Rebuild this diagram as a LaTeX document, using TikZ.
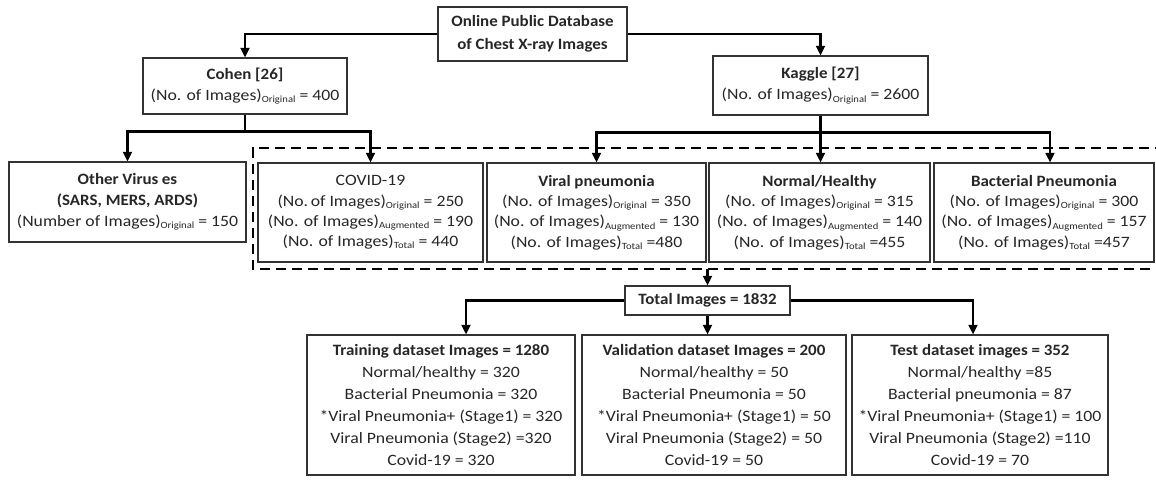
\documentclass[tikz,border=0pt]{standalone}
\usepackage{fontspec}
\setmainfont{Carlito}[FakeStretch=1.12, BoldFeatures={FakeStretch=1.07}]
\usetikzlibrary{arrows.meta}

\tikzset{
  box/.style={draw=black!80, line width=0.6pt, align=center, inner sep=0pt,
    text=black!85, font=\fontsize{9}{12}\selectfont},
  conn/.style={line width=1.3pt, -{Triangle[length=5.5pt,width=5pt]}},
  link/.style={line width=1.3pt},
  group/.style={line width=1.3pt, dash pattern=on 0.2cm off 0.12cm}
}
\newcommand{\sub}[1]{\raisebox{-0.3ex}{\fontsize{5.4}{5}\selectfont #1}}

\begin{document}
\begin{tikzpicture}
\useasboundingbox (0,0) rectangle (23.12,-9.68);
%
% Database
\node[box, minimum width=3.78cm, minimum height=1.08cm, font=\fontsize{9}{13}\selectfont] (db) at (10.65,-0.68)
  {\textbf{Online Public Database}\\\textbf{of Chest X-ray Images}};
% Sources
\node[box, minimum width=4.08cm, minimum height=1.12cm] (cohen) at (4.9,-1.72)
  {\textbf{Cohen [26]}\\(No. of Images)\sub{Original} = 400};
\node[box, minimum width=4.3cm, minimum height=1.18cm] (kaggle) at (16.41,-1.71)
  {\textbf{Kaggle [27]}\\(No. of Images)\sub{Original} = 2600};

%
% Classes
\node[box, minimum width=4.74cm, minimum height=1.6cm] (other) at (2.55,-4.04)
  {\textbf{Other Virus\hspace{2pt}es}\\\textbf{(SARS, MERS, ARDS)}\\(Number of Images)\sub{Original} = 150};
\node[box, minimum width=4.5cm, minimum height=1.98cm, font=\fontsize{9}{11.5}\selectfont] (covid) at (7.41,-4.25)
  {COVID-19\\(No.\,of Images)\sub{Original} = 250\\(No. of Images)\sub{Augmented} = 190\\(No. of Images)\sub{Total} = 440};
\node[box, minimum width=4.38cm, minimum height=1.98cm, font=\fontsize{9}{11.5}\selectfont] (viral) at (11.93,-4.25)
  {\textbf{Viral pneumonia}\\(No. of Images)\sub{Original} = 350\\(No. of Images)\sub{Augmented} = 130\\(No. of Images)\sub{Total} =480};
\node[box, minimum width=4.42cm, minimum height=1.98cm, font=\fontsize{9}{11.5}\selectfont] (normal) at (16.39,-4.25)
  {\textbf{Normal/Healthy}\\(No. of Images)\sub{Original} = 315\\(No. of Images)\sub{Augmented} = 140\\(No. of Images)\sub{Total} =455};
\node[box, minimum width=4.4cm, minimum height=1.98cm, font=\fontsize{9}{11.5}\selectfont] (bact) at (20.88,-4.25)
  {\textbf{Bacterial Pneumonia}\\(No. of Images)\sub{Original} = 300\\(No. of Images)\sub{Augmented} = 157\\(No. of Images)\sub{Total} =457};
% used classes
\draw[group] (23.3,-2.96) -- (5.06,-2.96) -- (5.06,-5.38) -- (23.3,-5.38);
\coordinate (grp) at (14.15,-5.38);

%
% Total
\node[box, minimum width=3.3cm, minimum height=0.58cm] (total) at (14.15,-6.01)
  {\textbf{Total Images = 1832}};
% Splits
\node[box, minimum width=5.36cm, minimum height=2.8cm, font=\fontsize{9}{12.5}\selectfont] (train) at (8.82,-8.1)
  {\textbf{Training dataset Images = 1280}\\Normal/healthy = 320\\Bacterial Pneumonia = 320\\*Viral Pneumonia+ (Stage1) = 320\\Viral Pneumonia (Stage2) =320\\Covid-19 = 320};
\node[box, minimum width=5.28cm, minimum height=2.8cm, font=\fontsize{9}{12.5}\selectfont] (valid) at (14.28,-8.1)
  {\textbf{Validation dataset Images = 200}\\Normal/healthy = 50\\Bacterial Pneumonia = 50\\*Viral Pneumonia+ (Stage1) = 50\\Viral Pneumonia (Stage2) = 50\\Covid-19 = 50};
\node[box, minimum width=5.12cm, minimum height=2.8cm, font=\fontsize{9}{12.5}\selectfont] (test) at (19.6,-8.1)
  {\textbf{Test dataset images = 352}\\Normal/healthy =85\\Bacterial pneumonia = 87\\*Viral Pneumonia+ (Stage1) = 100\\Viral Pneumonia (Stage2) =110\\Covid-19 = 70};

%
% Connectors
\draw[conn] (db.west) -| (cohen.north);
\draw[conn] (db.east) -| (kaggle.north);
\draw[link] (cohen.south) -- ++(0,-0.34) coordinate (cb);
\draw[conn] (cb) -| (other.north);
\draw[conn] (cb) -| (covid.north);
\draw[link] (kaggle.south) -- ++(0,-0.34) coordinate (kb);
\draw[conn] (kb) -| (viral.north);
\draw[conn] (kb) -- (kb |- normal.north);
\draw[conn] (kb) -| ([xshift=0.12cm]bact.north);
\draw[conn] (grp) -- (total.north);
\draw[conn] (total.west) -| ([xshift=0.5cm]train.north);
\draw[conn] (total.south) -- (total.south |- valid.north);
\draw[conn] (total.east) -| ([xshift=-0.14cm]test.north);
\end{tikzpicture}
\end{document}
